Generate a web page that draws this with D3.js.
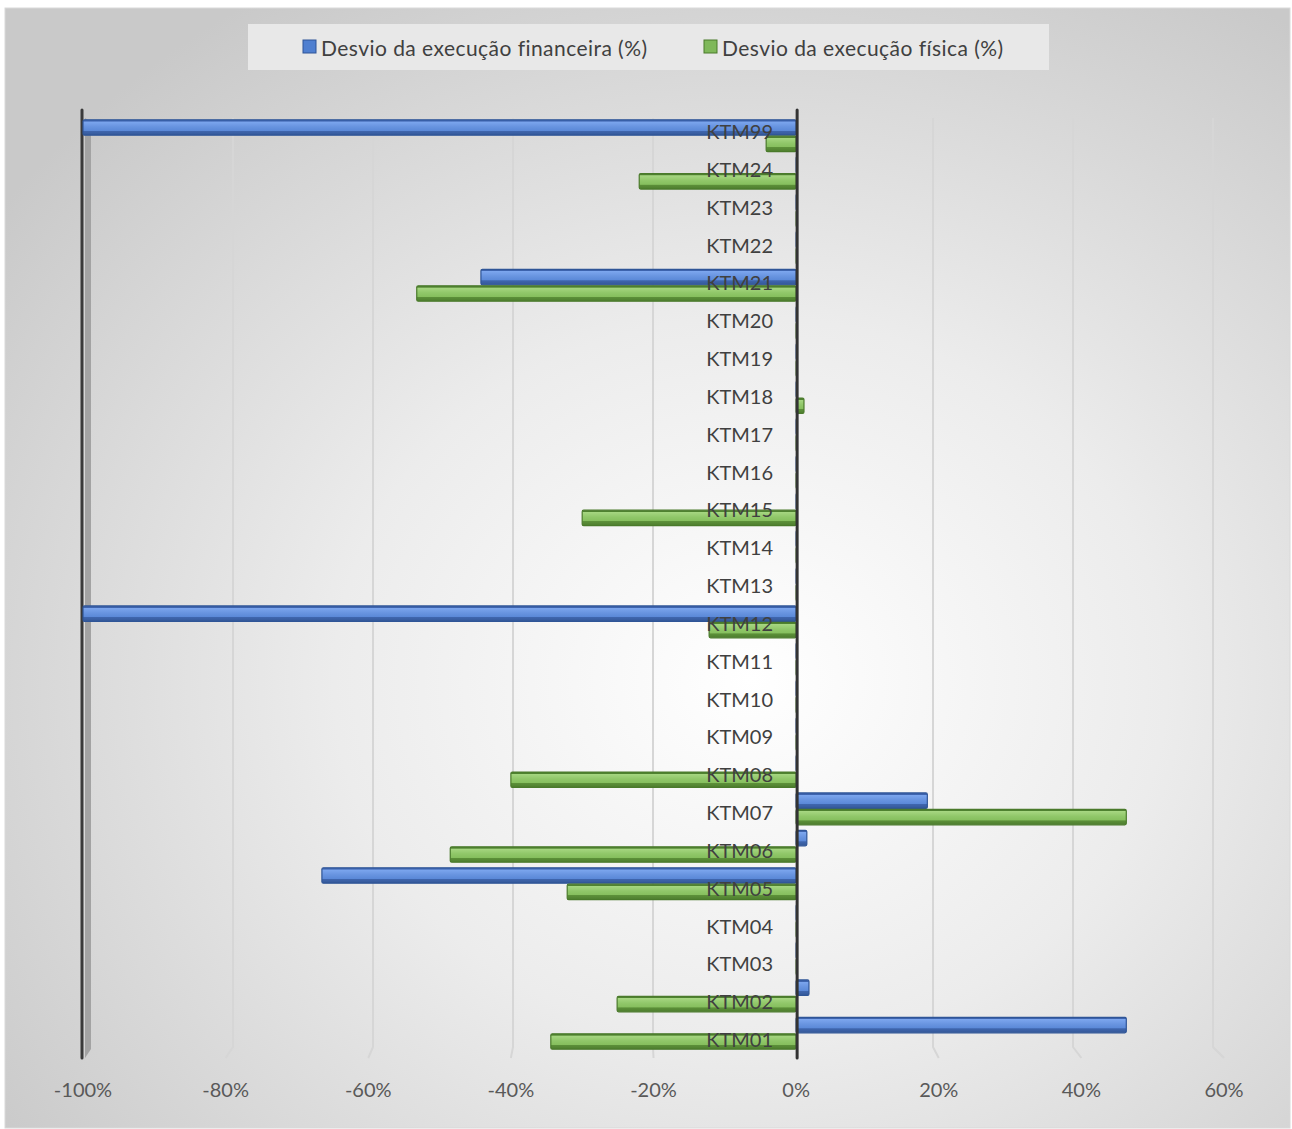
<!DOCTYPE html>
<html>
<head>
<meta charset="utf-8">
<script src="https://cdn.jsdelivr.net/npm/d3@7"></script>
<style>
  html, body { margin: 0; padding: 0; background: #ffffff; }
  svg { display: block; font-family: Lato, "Open Sans", "Liberation Sans", sans-serif; }
</style>
</head>
<body>
<svg id="chart" width="1292" height="1129"></svg>
<script>
// Measures (KTM) from bottom to top
const categories = ["KTM01","KTM02","KTM03","KTM04","KTM05","KTM06","KTM07","KTM08","KTM09","KTM10",
  "KTM11","KTM12","KTM13","KTM14","KTM15","KTM16","KTM17","KTM18","KTM19","KTM20",
  "KTM21","KTM22","KTM23","KTM24","KTM99"];

// Deviation of financial execution (fraction)
const desvioFinanceiro = [0.463, 0.018, 0, 0, -0.665, 0.015, 0.184, 0, 0, 0,
  0, -1.0, 0, 0, 0, 0, 0, 0, 0, 0,
  -0.442, 0, 0, 0, -1.0];

// Deviation of physical execution (fraction)
const desvioFisico = [-0.344, -0.251, 0, 0, -0.321, -0.485, 0.463, -0.40, 0, 0,
  0, -0.122, 0, 0, -0.30, 0, 0, 0.011, 0, 0,
  -0.532, 0, 0, -0.22, -0.042];

const seriesNames = ["Desvio da execução financeira (%)", "Desvio da execução física (%)"];
const tickValues = [-1.0, -0.8, -0.6, -0.4, -0.2, 0, 0.2, 0.4, 0.6];

const svg = d3.select("#chart");

const defs = svg.append("defs");

// chart area background: soft radial light
const bg = defs.append("radialGradient").attr("id", "bgGrad")
  .attr("cx", "0.58").attr("cy", "0.6").attr("r", "0.72");
bg.append("stop").attr("offset", "0").attr("stop-color", "#ffffff");
bg.append("stop").attr("offset", "0.45").attr("stop-color", "#ececec");
bg.append("stop").attr("offset", "1").attr("stop-color", "#c9c9c9");

// bar shading: dark top edge, light face, darker underside
function barGradient(id, stops) {
  const g = defs.append("linearGradient").attr("id", id)
    .attr("x1", 0).attr("y1", 0).attr("x2", 0).attr("y2", 1);
  stops.forEach(([o, c]) => g.append("stop").attr("offset", o).attr("stop-color", c));
}
barGradient("gBlue", [[0, "#3d63ad"], [0.1, "#3d63ad"], [0.13, "#7ca6ee"], [0.45, "#6894e0"], [0.7, "#5b89d8"], [0.73, "#3f66ae"], [1, "#345898"]]);
barGradient("gGreen", [[0, "#4f8230"], [0.1, "#4f8230"], [0.13, "#a6d681"], [0.45, "#90c769"], [0.7, "#86bf5e"], [0.73, "#5c9039"], [1, "#4d7d2e"]]);

const fills = ["url(#gBlue)", "url(#gGreen)"];
const strokes = ["#2f5597", "#4a7a2b"];
const swatch = ["#4f7fd0", "#7fb85a"];

// frame
svg.append("rect").attr("x", 5).attr("y", 8).attr("width", 1285).attr("height", 1120)
  .attr("fill", "url(#bgGrad)").attr("stroke", "#d9d9d9").attr("stroke-width", 1);

// scales
const x = d3.scaleLinear().domain([-1, 0.6]).range([83, 1224]);
const xBack = d3.scaleLinear().domain([-1, 0.6]).range([93, 1213]);
const y = d3.scaleBand().domain(categories.slice().reverse())
  .range([117, 1052]).paddingInner(0.12).paddingOuter(0.06);
const ySub = d3.scaleBand().domain([0, 1]).range([0, y.bandwidth()]);
const yLabel = d3.scalePoint().domain(categories.slice().reverse()).range([131, 1039]);

const gridTop = 118, gridBend = 1047, floorY = 1058;

// gridlines on the back wall, bending onto the floor
const grid = svg.append("g");
tickValues.filter(v => v !== 0 && v !== -1).forEach(v => {
  grid.append("path")
    .attr("d", `M${xBack(v)},${gridTop} L${xBack(v)},${gridBend} L${x(v)},${floorY}`)
    .attr("fill", "none").attr("stroke", "#d6d6d6").attr("stroke-width", 2);
});

// left wall edge
svg.append("path")
  .attr("d", `M${x(-1) + 2},${gridTop} L${x(-1) + 8},${gridTop + 4} L${x(-1) + 8},${gridBend + 2} L${x(-1) + 2},${floorY}Z`)
  .attr("fill", "#a3a3a3");
svg.append("line").attr("x1", x(-1) - 1).attr("x2", x(-1) - 1).attr("y1", 110).attr("y2", floorY)
  .attr("stroke", "#3a3a3a").attr("stroke-width", 3).attr("stroke-linecap", "round");

// bars
const rows = categories.map((c, i) => ({ cat: c, vals: [desvioFinanceiro[i], desvioFisico[i]] }));
const barG = svg.append("g");
rows.forEach(r => {
  r.vals.forEach((v, s) => {
    const x0 = x(Math.min(0, v)), x1 = x(Math.max(0, v));
    const yy = y(r.cat) + ySub(s);
    const h = ySub.bandwidth();
    barG.append("rect")
      .attr("x", x0).attr("y", yy + 0.5)
      .attr("width", Math.max(0.5, x1 - x0)).attr("height", h - 1)
      .attr("fill", fills[s]).attr("stroke", strokes[s]).attr("stroke-width", 1.2)
      .attr("rx", 1.5);
  });
});

// category axis at zero
svg.append("line").attr("x1", x(0) + 1).attr("x2", x(0) + 1).attr("y1", 110).attr("y2", floorY)
  .attr("stroke", "#333333").attr("stroke-width", 3).attr("stroke-linecap", "round");

// category labels
svg.append("g").selectAll("text").data(categories).join("text")
  .attr("x", 773).attr("y", d => yLabel(d))
  .attr("text-anchor", "end").attr("dominant-baseline", "central")
  .attr("font-size", 20).attr("fill", "#404040")
  .text(d => d);

// value axis labels
const fmt = v => d3.format(".0%")(v).replace("\u2212", "-");
svg.append("g").selectAll("text").data(tickValues).join("text")
  .attr("x", d => x(d)).attr("y", 1089)
  .attr("text-anchor", "middle").attr("dominant-baseline", "central")
  .attr("font-size", 20).attr("fill", "#595959")
  .text(d => fmt(d));

// legend
const leg = svg.append("g");
leg.append("rect").attr("x", 248).attr("y", 24).attr("width", 801).attr("height", 46)
  .attr("fill", "#e8e8e8");
const legX = [303, 704];
seriesNames.forEach((n, i) => {
  leg.append("rect").attr("x", legX[i]).attr("y", 40).attr("width", 13).attr("height", 13)
    .attr("fill", swatch[i]).attr("stroke", strokes[i]).attr("stroke-width", 1);
  leg.append("text").attr("x", legX[i] + 18).attr("y", 47)
    .attr("dominant-baseline", "central").attr("font-size", 21).attr("letter-spacing", 0.45)
    .attr("fill", "#404040")
    .text(n);
});
</script>
</body>
</html>
